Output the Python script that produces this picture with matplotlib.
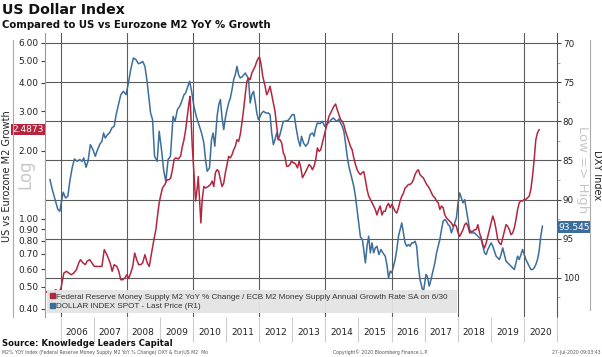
import matplotlib.pyplot as plt
from matplotlib.patches import Patch

# ---- data (decimal years) ----
red_years = [
    2005.55, 2005.62, 2005.70, 2005.78, 2005.85, 2005.92, 2005.98, 2006.02, 2006.05, 2006.10,
    2006.18, 2006.25, 2006.32, 2006.40, 2006.48, 2006.55, 2006.60, 2006.68, 2006.75, 2006.80,
    2006.88, 2006.95, 2007.02, 2007.10, 2007.18, 2007.25, 2007.32, 2007.40, 2007.46, 2007.50,
    2007.56, 2007.62, 2007.70, 2007.76, 2007.82, 2007.88, 2007.94, 2008.00, 2008.06, 2008.12,
    2008.18, 2008.24, 2008.30, 2008.36, 2008.42, 2008.48, 2008.55, 2008.62, 2008.68, 2008.75,
    2008.82, 2008.88, 2008.94, 2008.98, 2009.02, 2009.08, 2009.15, 2009.22, 2009.28, 2009.33,
    2009.38, 2009.43, 2009.48, 2009.56, 2009.63, 2009.68, 2009.73, 2009.78, 2009.83, 2009.88,
    2009.91, 2009.94, 2009.98, 2010.03, 2010.08, 2010.13, 2010.16, 2010.20, 2010.24, 2010.28,
    2010.33, 2010.38, 2010.46, 2010.53, 2010.58, 2010.63, 2010.68, 2010.73, 2010.78, 2010.83,
    2010.88, 2010.93, 2010.98, 2011.03, 2011.08, 2011.13, 2011.18, 2011.23, 2011.28, 2011.33,
    2011.38, 2011.43, 2011.48, 2011.53, 2011.58, 2011.63, 2011.68, 2011.73, 2011.78, 2011.83,
    2011.88, 2011.93, 2011.98, 2012.01, 2012.06, 2012.11, 2012.18, 2012.23, 2012.28, 2012.33,
    2012.38, 2012.43, 2012.48, 2012.53, 2012.58, 2012.63, 2012.68, 2012.73, 2012.78, 2012.83,
    2012.88, 2012.93, 2012.98, 2013.03, 2013.06, 2013.11, 2013.16, 2013.21, 2013.26, 2013.31,
    2013.36, 2013.41, 2013.46, 2013.51, 2013.56, 2013.61, 2013.66, 2013.71, 2013.76, 2013.81,
    2013.86, 2013.91, 2013.96, 2014.01, 2014.06, 2014.11, 2014.16, 2014.21, 2014.26, 2014.31,
    2014.36, 2014.41, 2014.46, 2014.51, 2014.56, 2014.61, 2014.66, 2014.71, 2014.76, 2014.81,
    2014.86, 2014.91, 2014.96, 2015.01, 2015.06, 2015.11, 2015.16, 2015.21, 2015.26, 2015.31,
    2015.36, 2015.41, 2015.46, 2015.51, 2015.56, 2015.61, 2015.66, 2015.71, 2015.76, 2015.81,
    2015.86, 2015.91, 2015.96, 2016.01, 2016.06, 2016.11, 2016.16, 2016.21, 2016.26, 2016.31,
    2016.36, 2016.41, 2016.46, 2016.51, 2016.56, 2016.61, 2016.66, 2016.71, 2016.76, 2016.81,
    2016.86, 2016.91, 2016.96, 2017.01, 2017.06, 2017.11, 2017.16, 2017.21, 2017.26, 2017.31,
    2017.36, 2017.41, 2017.46, 2017.51, 2017.56, 2017.61, 2017.66, 2017.71, 2017.76, 2017.81,
    2017.86, 2017.91, 2017.96, 2018.01, 2018.06, 2018.11, 2018.16, 2018.21, 2018.26, 2018.31,
    2018.36, 2018.41, 2018.46, 2018.51, 2018.56, 2018.61, 2018.66, 2018.71, 2018.76, 2018.81,
    2018.86, 2018.91, 2018.96, 2019.01, 2019.06, 2019.11, 2019.16, 2019.21, 2019.26, 2019.31,
    2019.36, 2019.41, 2019.46, 2019.51, 2019.56, 2019.61, 2019.66, 2019.71, 2019.76, 2019.81,
    2019.86, 2019.91, 2019.96, 2020.01, 2020.06, 2020.11, 2020.16, 2020.21, 2020.26, 2020.31,
    2020.36, 2020.41, 2020.46,
]
red_vals = [
    0.478, 0.470, 0.458, 0.452, 0.486, 0.478, 0.480, 0.500, 0.529, 0.576,
    0.586, 0.576, 0.566, 0.576, 0.596, 0.638, 0.660, 0.638, 0.627, 0.649,
    0.660, 0.638, 0.616, 0.616, 0.616, 0.616, 0.731, 0.694, 0.660, 0.638,
    0.586, 0.627, 0.616, 0.586, 0.538, 0.538, 0.547, 0.566, 0.547, 0.576,
    0.616, 0.706, 0.660, 0.627, 0.627, 0.638, 0.694, 0.638, 0.616, 0.706,
    0.809, 0.896, 1.062, 1.175, 1.258, 1.370, 1.417, 1.491, 1.49, 1.52,
    1.65, 1.83, 1.86, 1.84, 1.90, 2.09, 2.24, 2.48, 2.84, 3.26,
    3.48, 2.84, 2.09, 1.60, 1.20, 1.37, 1.54, 1.22, 0.959, 1.22,
    1.39, 1.37, 1.39, 1.42, 1.47, 1.39, 1.60, 1.65, 1.62, 1.49,
    1.39, 1.44, 1.60, 1.74, 1.89, 1.86, 1.92, 2.02, 2.09, 2.24,
    2.20, 2.36, 2.66, 3.04, 3.54, 4.06, 4.20, 4.13, 4.42, 4.57,
    4.73, 4.98, 5.15, 5.20, 4.81, 4.27, 3.86, 3.54, 3.67, 3.86,
    3.54, 3.26, 2.99, 2.57, 2.24, 2.24, 2.17, 1.96, 1.89, 1.71,
    1.71, 1.74, 1.80, 1.77, 1.77, 1.74, 1.68, 1.80, 1.68, 1.52,
    1.57, 1.62, 1.68, 1.74, 1.71, 1.65, 1.71, 1.83, 2.06, 1.99,
    2.02, 2.17, 2.32, 2.48, 2.66, 2.84, 2.94, 3.04, 3.15, 3.22,
    3.04, 2.89, 2.75, 2.70, 2.61, 2.44, 2.32, 2.20, 2.09, 2.02,
    1.86, 1.74, 1.65, 1.60, 1.57, 1.60, 1.62, 1.49, 1.35, 1.26,
    1.22, 1.18, 1.14, 1.10, 1.04, 1.10, 1.14, 1.04, 1.08, 1.08,
    1.14, 1.17, 1.12, 1.16, 1.12, 1.08, 1.06, 1.12, 1.20, 1.26,
    1.30, 1.37, 1.39, 1.42, 1.42, 1.44, 1.49, 1.57, 1.62, 1.65,
    1.57, 1.54, 1.52, 1.47, 1.42, 1.39, 1.35, 1.30, 1.26, 1.24,
    1.20, 1.18, 1.10, 1.14, 1.12, 1.04, 1.01, 0.992, 0.975, 0.959,
    0.927, 0.943, 0.927, 0.866, 0.837, 0.866, 0.896, 0.943, 0.959, 0.927,
    0.866, 0.881, 0.881, 0.896, 0.896, 0.943, 0.866, 0.823, 0.769, 0.743,
    0.782, 0.837, 0.896, 0.959, 1.03, 0.975, 0.896, 0.809, 0.782, 0.769,
    0.823, 0.881, 0.943, 0.927, 0.896, 0.851, 0.866, 0.911, 0.992, 1.10,
    1.18, 1.20, 1.20, 1.22, 1.22, 1.24, 1.26, 1.35, 1.54, 1.83,
    2.24, 2.40, 2.48,
]

blue_years = [
    2005.68, 2005.75, 2005.85, 2005.92, 2005.98, 2006.02, 2006.08, 2006.15, 2006.22, 2006.28,
    2006.35, 2006.42, 2006.50, 2006.58, 2006.65, 2006.70, 2006.77, 2006.83, 2006.90, 2006.98,
    2007.05, 2007.10, 2007.18, 2007.25, 2007.30, 2007.35, 2007.42, 2007.48, 2007.55, 2007.62,
    2007.68, 2007.75, 2007.82, 2007.90, 2007.98, 2008.05, 2008.12, 2008.20, 2008.28, 2008.35,
    2008.42, 2008.48, 2008.55, 2008.62, 2008.68, 2008.72, 2008.78, 2008.84, 2008.92, 2008.98,
    2009.05, 2009.12, 2009.18, 2009.25, 2009.32, 2009.40, 2009.46, 2009.53, 2009.60, 2009.66,
    2009.73, 2009.78, 2009.83, 2009.90, 2009.96, 2010.03, 2010.10, 2010.18, 2010.26, 2010.33,
    2010.38, 2010.43, 2010.50, 2010.56, 2010.61, 2010.66, 2010.73, 2010.78, 2010.83, 2010.88,
    2010.93, 2010.98, 2011.03, 2011.08, 2011.13, 2011.18, 2011.23, 2011.28, 2011.33, 2011.38,
    2011.43, 2011.50, 2011.58, 2011.64, 2011.68, 2011.73, 2011.78, 2011.83, 2011.88, 2011.93,
    2011.98, 2012.03, 2012.08, 2012.13, 2012.20, 2012.28, 2012.33, 2012.38, 2012.43, 2012.48,
    2012.53, 2012.58, 2012.63, 2012.68, 2012.73, 2012.78, 2012.88, 2012.93, 2013.00, 2013.06,
    2013.11, 2013.18, 2013.24, 2013.28, 2013.34, 2013.41, 2013.48, 2013.54, 2013.61, 2013.66,
    2013.71, 2013.76, 2013.84, 2013.91, 2013.98, 2014.04, 2014.11, 2014.18, 2014.24, 2014.31,
    2014.36, 2014.41, 2014.46, 2014.51, 2014.56, 2014.61, 2014.66, 2014.71, 2014.76, 2014.81,
    2014.86, 2014.91, 2014.96, 2015.01, 2015.06, 2015.12, 2015.16, 2015.21, 2015.26, 2015.31,
    2015.36, 2015.41, 2015.46, 2015.51, 2015.56, 2015.62, 2015.68, 2015.74, 2015.81, 2015.86,
    2015.91, 2015.96, 2016.01, 2016.06, 2016.11, 2016.16, 2016.21, 2016.26, 2016.31, 2016.36,
    2016.41, 2016.46, 2016.51, 2016.56, 2016.61, 2016.66, 2016.71, 2016.76, 2016.81, 2016.86,
    2016.91, 2016.96, 2017.04, 2017.08, 2017.14, 2017.18, 2017.24, 2017.31, 2017.36, 2017.41,
    2017.46, 2017.51, 2017.56, 2017.61, 2017.66, 2017.71, 2017.76, 2017.81, 2017.86, 2017.91,
    2017.96, 2018.01, 2018.06, 2018.11, 2018.16, 2018.21, 2018.26, 2018.31, 2018.36, 2018.41,
    2018.51, 2018.61, 2018.71, 2018.76, 2018.81, 2018.86, 2018.91, 2018.96, 2019.01, 2019.06,
    2019.11, 2019.16, 2019.21, 2019.26, 2019.31, 2019.36, 2019.41, 2019.46, 2019.56, 2019.66,
    2019.71, 2019.76, 2019.81, 2019.86, 2019.91, 2019.96, 2020.01, 2020.06, 2020.11, 2020.16,
    2020.21, 2020.26, 2020.31, 2020.36, 2020.41, 2020.46, 2020.51, 2020.56,
]
blue_vals = [
    87.45, 88.72, 90.21, 91.28, 91.49, 90.43, 89.06, 89.79, 89.57, 87.66,
    85.96, 84.81, 85.11, 84.89, 85.11, 84.68, 85.87, 85.11, 82.98, 83.62,
    84.47, 83.83, 82.98, 82.55, 81.49, 82.13, 81.70, 81.49, 80.85, 80.64,
    79.15, 77.87, 76.60, 76.17, 76.60, 75.11, 73.40, 71.91, 72.13, 72.64,
    72.55, 72.34, 72.98, 75.11, 77.45, 78.94, 79.79, 84.47, 85.11, 81.28,
    83.62, 86.38, 87.66, 84.89, 84.47, 79.36, 80.00, 78.51, 78.09, 77.45,
    76.60, 76.38, 75.74, 74.89, 76.17, 78.09, 79.36, 80.43, 81.49, 82.77,
    84.89, 86.38, 85.96, 82.34, 81.49, 83.19, 79.36, 77.87, 77.23, 79.57,
    81.06, 79.57, 78.51, 77.66, 77.02, 75.96, 74.68, 74.04, 72.98, 74.04,
    74.47, 74.26, 73.83, 74.26, 74.68, 77.66, 76.60, 76.17, 77.45, 78.94,
    79.79, 79.36, 78.94, 78.72, 78.94, 78.94, 79.15, 81.49, 82.98, 82.34,
    81.49, 82.34, 81.70, 80.85, 80.00, 80.00, 79.87, 79.57, 79.15, 79.15,
    80.64, 82.34, 83.19, 81.91, 82.77, 83.19, 82.77, 81.70, 81.49, 81.91,
    80.85, 80.21, 80.30, 80.00, 80.64, 80.43, 80.13, 79.79, 79.57, 79.87,
    80.00, 79.70, 80.21, 80.64, 81.28, 82.77, 84.47, 85.74, 86.60, 87.45,
    88.30, 89.57, 91.28, 92.98, 94.77, 95.11, 96.38, 98.09, 95.96, 94.68,
    96.81, 95.53, 96.81, 96.17, 95.96, 97.02, 96.38, 96.81, 97.23, 98.30,
    100.00, 99.15, 99.36, 98.51, 97.66, 96.38, 94.68, 93.83, 92.98, 94.26,
    95.53, 95.96, 95.74, 95.96, 95.53, 95.53, 95.32, 95.96, 98.51, 100.21,
    101.06, 101.91, 99.57, 99.79, 101.06, 100.43, 99.36, 98.09, 96.81, 95.96,
    95.11, 93.83, 92.77, 92.55, 92.77, 93.19, 93.40, 94.26, 93.62, 92.98,
    92.34, 90.43, 89.15, 89.79, 90.43, 90.00, 91.28, 92.55, 93.83, 94.26,
    94.26, 94.68, 95.11, 95.96, 96.81, 97.02, 96.38, 95.96, 95.53, 95.96,
    96.60, 97.23, 97.45, 97.66, 97.02, 96.17, 97.02, 97.87, 98.30, 98.72,
    98.94, 98.09, 97.23, 97.66, 97.02, 96.38, 97.02, 97.66, 98.09, 98.51,
    98.94, 98.94, 98.72, 98.30, 97.66, 96.60, 94.68, 93.40,
]

red_last = 2.4873
blue_last = 93.545

years = list(range(2006, 2021))
left_ticks = [0.40, 0.50, 0.60, 0.70, 0.80, 0.90, 1.00, 2.00, 3.00, 4.00, 5.00, 6.00]
right_ticks = [70, 75, 80, 85, 90, 95, 100]

RED = "#b2263f"
BLUE = "#3b6e9c"
GRID = "#5c5c5c"

plt.rcParams['font.family'] = ['DejaVu Sans']

fig = plt.figure(figsize=(6.02, 3.57), dpi=100)
ax = fig.add_axes([45 / 602, 1 - 317 / 357, 512 / 602, 284 / 357])
ax2 = ax.twinx()

# left: log scale, right: DXY inverted
ax.set_yscale('log')
ax.set_ylim(0.368, 6.64)
ax.set_xlim(2005.53, 2020.89)
ax2.set_ylim(105, 68.72)

ax2.plot(blue_years, blue_vals, color=BLUE, lw=1.1)
ax.plot(red_years, red_vals, color=RED, lw=1.1)

ax.set_zorder(ax2.get_zorder() + 1)
ax.patch.set_visible(False)

# grid
ax2.set_yticks(right_ticks)
ax2.set_yticks([v + 2.5 for v in right_ticks], minor=True)
ax2.grid(axis='y', which='major', color=GRID, lw=0.8)
for yr in years[::2]:
    ax2.axvline(yr, color=GRID, lw=0.8)

ax2.tick_params(axis='y', which='major', direction='out', length=3, width=0.8,
                color='#444444', labelsize=6.3, labelcolor='#222222', pad=1.2)
ax2.tick_params(axis='y', which='minor', direction='out', length=2, width=0.6, color='#999999')

ax.set_yticks(left_ticks)
ax.set_yticklabels(['%.2f' % v for v in left_ticks])
ax.yaxis.set_minor_locator(plt.NullLocator())
ax.tick_params(axis='y', which='major', direction='out', length=3, width=0.8,
               color='#444444', labelsize=6.5, labelcolor='#222222', pad=1.5)

# x axis: long separators at year boundaries, labels mid-year
ax.set_xticks(years + [2021])
ax.set_xticklabels([])
ax.set_xticks([y + 0.5 for y in years], minor=True)
ax.set_xticklabels([str(y) for y in years], minor=True)
ax.tick_params(axis='x', which='major', direction='out', length=18, width=0.8, color='#cccccc')
ax.tick_params(axis='x', which='minor', length=0, labelsize=6.5, labelcolor='#222222', pad=8)
ax2.tick_params(axis='x', which='both', length=0)

for a in (ax, ax2):
    a.spines['top'].set_visible(False)
    a.spines['bottom'].set_visible(False)
ax.spines['left'].set_color('#999999')
ax.spines['left'].set_linewidth(0.8)
ax.spines['right'].set_visible(False)
ax2.spines['left'].set_visible(False)
ax2.spines['right'].set_color('#555555')
ax2.spines['right'].set_linewidth(0.8)

# legend
handles = [Patch(color=RED), Patch(color=BLUE)]
labels = ["Federal Reserve Money Supply M2 YoY % Change / ECB M2 Money Supply Annual Growth Rate SA on 6/30",
          "DOLLAR INDEX SPOT - Last Price (R1)"]
leg = ax.legend(handles, labels, loc='lower left', bbox_to_anchor=(2 / 512, 4 / 284, 410 / 512, 0.05),
                mode='expand', borderaxespad=0, frameon=True, fancybox=False,
                prop={'family': 'Liberation Sans', 'size': 5.9},
                handlelength=0.6, handleheight=0.6, handletextpad=0.2, labelspacing=0.25,
                borderpad=0.35, labelcolor='#333333')
leg.get_frame().set_facecolor('#e4e4e4')
leg.get_frame().set_edgecolor('none')
leg.get_frame().set_alpha(0.95)

# last value badges
ax.text(-0.003, red_last, "%.4f" % red_last, transform=ax.get_yaxis_transform(),
        ha='right', va='center', color='white', fontsize=6.5,
        bbox=dict(boxstyle='square,pad=0.15', fc=RED, ec='none'))
ax2.text(1.003, blue_last, "%.3f" % blue_last, transform=ax2.get_yaxis_transform(),
         ha='left', va='center', color='white', fontsize=6.5,
         bbox=dict(boxstyle='square,pad=0.15', fc=BLUE, ec='none'))

# axis titles and side brackets
fig.text(7 / 602, 1 - 176 / 357, "US vs Eurozone M2 Growth", rotation=90,
         ha='center', va='center', fontsize=7, color='#222222')
fig.text(25 / 602, 1 - 174 / 357, "Log", rotation=90, ha='center', va='center',
         fontsize=12, color='#c8c8c8')
fig.text(583 / 602, 1 - 170 / 357, "Low => High", rotation=-90, ha='center', va='center',
         fontsize=9.5, color='#c8c8c8')
fig.text(597 / 602, 1 - 175 / 357, "DXY Index", rotation=-90, ha='center', va='center',
         fontsize=7, color='#222222')
fig.add_artist(plt.Line2D([13 / 602, 13 / 602], [1 - 40 / 357, 1 - 317 / 357],
                          color='#aaaaaa', lw=0.8))
fig.add_artist(plt.Line2D([590 / 602, 590 / 602], [1 - 40 / 357, 1 - 310 / 357],
                          color='#aaaaaa', lw=0.8))

# titles
fig.text(2 / 602, 1 - 10 / 357, "US Dollar Index", fontsize=10.2, fontweight='bold',
         ha='left', va='center', color='#111111')
fig.text(2 / 602, 1 - 25 / 357, "Compared to US vs Eurozone M2 YoY % Growth", fontsize=7.3,
         fontweight='bold', ha='left', va='center', color='#111111')

# footer
fig.text(2 / 602, 1 - 344 / 357, "Source: Knowledge Leaders Capital", fontsize=6.1,
         fontweight='bold', ha='left', va='center', color='#111111')
fig.text(2 / 602, 1 - 352.5 / 357,
         "M2% YOY Index (Federal Reserve Money Supply M2 YoY % Change) DXY & Eur/US M2  Mo",
         fontsize=3.3, ha='left', va='center', color='#555555')
fig.text(333 / 602, 1 - 352.5 / 357, "Copyright\u00a9 2020 Bloomberg Finance L.P.",
         fontsize=3.3, ha='left', va='center', color='#555555')
fig.text(600 / 602, 1 - 352.5 / 357, "27-Jul-2020 09:03:43",
         fontsize=3.3, ha='right', va='center', color='#555555')

fig.savefig("out.png", dpi=100)
